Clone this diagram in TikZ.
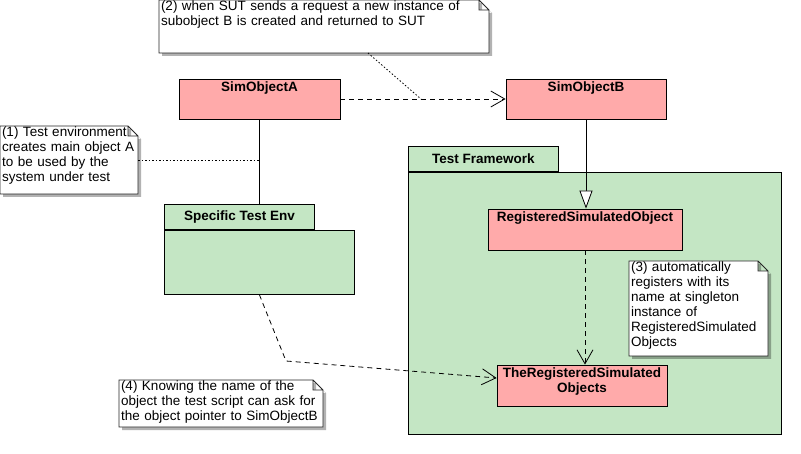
\documentclass[tikz,border=0pt]{standalone}
\usepackage{fontspec}
\setmainfont{Liberation Sans}
\usetikzlibrary{arrows.meta, positioning, shadows}

\definecolor{classpink}{RGB}{255,170,170}
\definecolor{pkggreen}{RGB}{196,230,196}
\newcommand\notefont{\fontsize{13.5}{15}\selectfont}
\newcommand\titlefont{\fontsize{13.5}{15}\selectfont\bfseries}

% note shape with a folded corner
\makeatletter
\pgfdeclareshape{umlnote}{
  \inheritsavedanchors[from=rectangle]
  \inheritanchorborder[from=rectangle]
  \inheritanchor[from=rectangle]{center}
  \inheritanchor[from=rectangle]{north}
  \inheritanchor[from=rectangle]{south}
  \inheritanchor[from=rectangle]{east}
  \inheritanchor[from=rectangle]{west}
  \inheritanchor[from=rectangle]{north east}
  \inheritanchor[from=rectangle]{north west}
  \inheritanchor[from=rectangle]{south east}
  \inheritanchor[from=rectangle]{south west}
  \inheritanchor[from=rectangle]{base}
  \backgroundpath{
    \southwest \pgf@xa=\pgf@x \pgf@ya=\pgf@y
    \northeast \pgf@xb=\pgf@x \pgf@yb=\pgf@y
    \pgf@xc=\pgf@xb \advance\pgf@xc by -10pt
    \pgf@yc=\pgf@yb \advance\pgf@yc by -10pt
    \pgfpathmoveto{\pgfqpoint{\pgf@xa}{\pgf@ya}}
    \pgfpathlineto{\pgfqpoint{\pgf@xa}{\pgf@yb}}
    \pgfpathlineto{\pgfqpoint{\pgf@xc}{\pgf@yb}}
    \pgfpathlineto{\pgfqpoint{\pgf@xb}{\pgf@yc}}
    \pgfpathlineto{\pgfqpoint{\pgf@xb}{\pgf@ya}}
    \pgfpathclose
    \pgfpathmoveto{\pgfqpoint{\pgf@xc}{\pgf@yb}}
    \pgfpathlineto{\pgfqpoint{\pgf@xc}{\pgf@yc}}
    \pgfpathlineto{\pgfqpoint{\pgf@xb}{\pgf@yc}}
  }
}
\makeatother

\tikzset{
classbox/.style={
    rectangle,
    draw=black,
    fill=classpink,
    line width=0.8pt
},
pkgbody/.style={
    rectangle,
    draw=black,
    fill=pkggreen,
    line width=0.8pt,
    anchor=north west
},
pkgtab/.style={
    rectangle,
    draw=black,
    fill=pkggreen,
    line width=0.8pt,
    anchor=south west,
    minimum width=150pt,
    minimum height=25pt,
    font=\titlefont
},
note/.style 2 args={
    shape=umlnote,
    draw=black!85,
    fill=white,
    line width=0.8pt,
    anchor=north west,
    outer sep=0pt,
    inner xsep=2pt,
    inner ysep=1pt,
    align=left,
    text width=#1,
    text height=10pt,
    text depth=#2,
    font=\notefont,
    drop shadow={shadow xshift=3pt, shadow yshift=-3pt, opacity=0.3, fill=black}
},
title/.style={anchor=north, inner sep=3pt, font=\titlefont, align=center}
}

\begin{document}
\begin{tikzpicture}[
        x=1pt, y=-1pt,
        line width=0.8pt,
        depend/.style={dash pattern=on 5pt off 4pt, -{Straight Barb[length=14pt, width=16pt]}},
        noteline/.style={dash pattern=on 1.5pt off 2pt}
    ]
    \useasboundingbox (0,0) rectangle (801,454);

    % packages
    \node[pkgbody, minimum width=190pt, minimum height=64pt] (ste) at (164,230) {};
    \node[pkgtab] (steTab) at (ste.north west) {Specific Test Env};
    \node[pkgbody, minimum width=373pt, minimum height=262pt] (tf) at (408,172) {};
    \node[pkgtab] (tfTab) at (tf.north west) {Test Framework};

    % classes
    \node[classbox, minimum width=161pt, minimum height=40pt, label={[title]north:SimObjectA}] (simA) at (259.5,99) {};
    \node[classbox, minimum width=160pt, minimum height=40pt, label={[title]north:SimObjectB}] (simB) at (586,99) {};
    \node[classbox, minimum width=194pt, minimum height=41pt, label={[title]north:RegisteredSimulatedObject}] (rso) at (585,229.5) {};
    \node[classbox, minimum width=170pt, minimum height=41pt, label={[title]north:TheRegisteredSimulated\\Objects}] (trso) at (582,385.5) {};

    % notes
    \node[note={134pt}{56pt}] (n1) at (0,126) {(1) Test environment\\creates main object A\\to be used by the\\system under test};
    \node[note={326pt}{41pt}] (n2) at (159,0) {(2) when SUT sends a request a new instance of\\subobject B is created and returned to SUT};
    \node[note={135pt}{83pt}] (n3) at (629,261) {(3) automatically\\registers with its\\name at singleton\\instance of\\RegisteredSimulated\\Objects};
    \node[note={200pt}{35pt}] (n4) at (119,380) {(4) Knowing the name of the\\object the test script can ask for\\the object pointer to SimObjectB};

    \coordinate (abMid) at (421,99);
    \coordinate (bend) at (286,361);

    % edges
    \draw (simA.south) -- (simA.south |- steTab.north);
    \draw[depend] (simA.east) -- (simB.west);
    \draw[-{Triangle[length=18pt, width=13pt, fill=white]}] (simB.south) -- (simB.south |- rso.north);
    \draw[depend] (rso.south) -- (rso.south |- trso.north);
    \draw[depend] (ste.south) -- (bend) -- ([yshift=7.5pt]trso.west);

    % note links
    \draw[noteline] (n1.east) -- (n1.east -| simA.south);
    \draw[noteline] (n2.south west) ++(209,0) -- (abMid);

\end{tikzpicture}
\end{document}
